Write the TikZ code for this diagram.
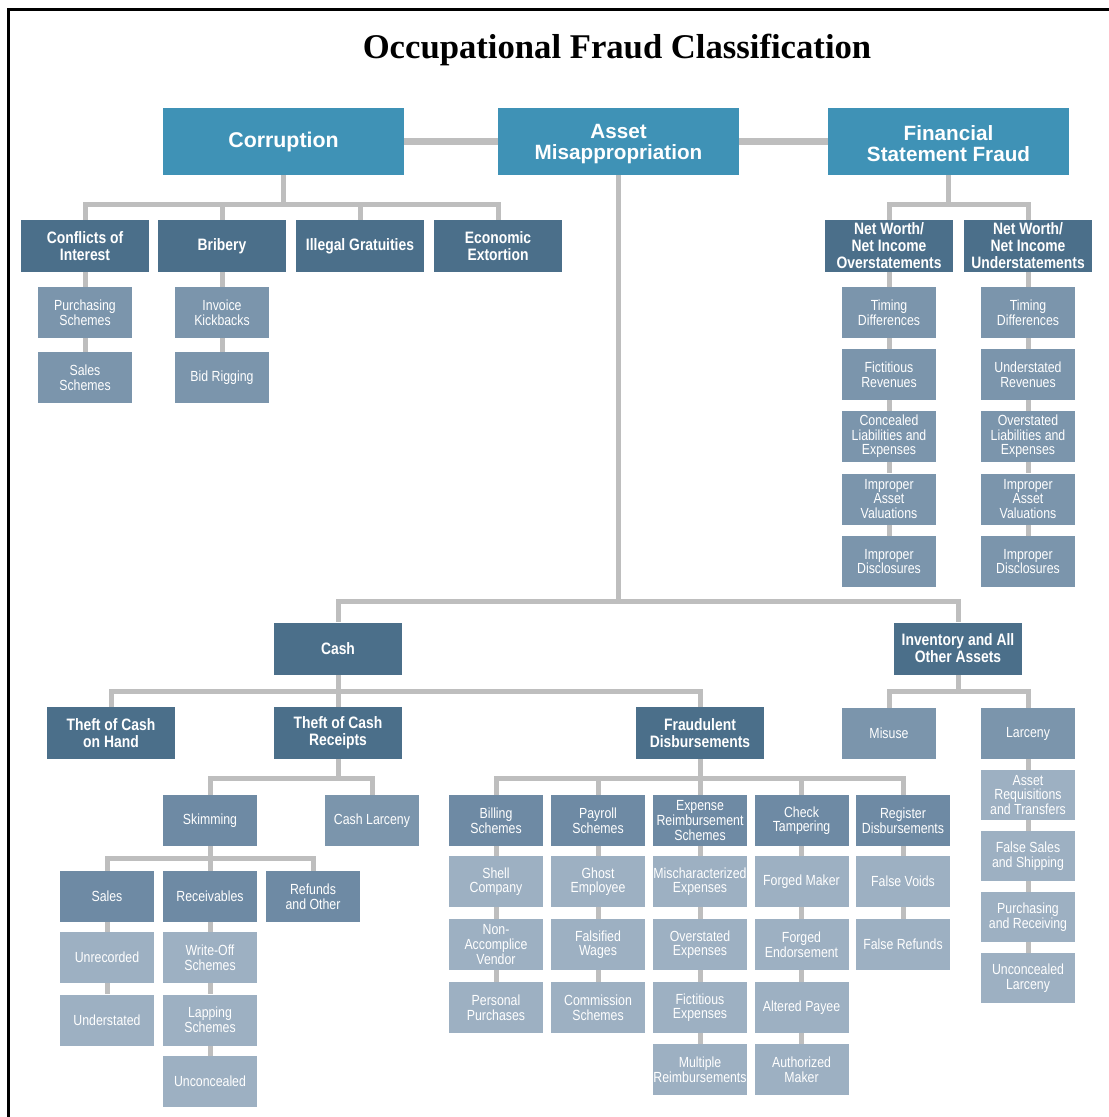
\documentclass[tikz,border=0pt]{standalone}
\usepackage{fontspec}
\setmainfont{Liberation Sans}
\newfontfamily\titlefont{Liberation Serif}
\newfontfamily\condfont[FakeStretch=0.84]{Liberation Sans}
\usetikzlibrary{backgrounds}
\definecolor{topc}{HTML}{3F92B6}
\definecolor{darkc}{HTML}{4B6F8A}
\definecolor{medc}{HTML}{6E8AA4}
\definecolor{midc}{HTML}{7B95AC}
\definecolor{lightc}{HTML}{9DB0C2}
\definecolor{linec}{HTML}{BEBEBE}
\begin{document}
\begin{tikzpicture}[x=0.75pt,y=-0.75pt,
  box/.style={fill=#1, text=white, align=center, inner sep=0pt},
  topbox/.style={box=topc, minimum width=180.75pt, minimum height=50.25pt, font=\bfseries\fontsize{15.5}{16}\selectfont},
  darkbox/.style={box=darkc, minimum width=96pt, minimum height=39pt, font=\condfont\bfseries\fontsize{12.4}{12.75}\selectfont},
  medbox/.style={box=medc, minimum width=70.5pt, minimum height=38.25pt, font=\condfont\fontsize{11}{10.9}\selectfont},
  midbox/.style={box=midc, minimum width=70.5pt, minimum height=38.25pt, font=\condfont\fontsize{11}{10.9}\selectfont},
  lightbox/.style={box=lightc, minimum width=70.5pt, minimum height=38.25pt, font=\condfont\fontsize{11}{10.9}\selectfont},
  conn/.style={draw=linec, line width=3.75pt},
  topconn/.style={draw=linec, line width=5.25pt}
]
\useasboundingbox (0,0) rectangle (1109,1117);
\draw[line width=2.25pt] (8,1117) -- (8,9) -- (1109,9);

\node[font=\titlefont\bfseries\fontsize{26}{28}\selectfont, anchor=base] (title) at (617,58) {Occupational Fraud Classification};

% top level
\node[topbox, font=\bfseries\fontsize{16}{17}\selectfont] (corr) at (283.5,141.5) {Corruption};
\node[topbox] (am) at (618.5,141.5) {\rule{0pt}{14pt}Asset\\Misappropriation};
\node[topbox] (fsf) at (948.5,141.5) {\rule{0pt}{14pt}Financial\\Statement Fraud};

% corruption
\node[darkbox] (coi) at (85,246) {Conflicts of\\Interest};
\node[darkbox] (bri) at (222,246) {Bribery};
\node[darkbox] (ill) at (360,246) {Illegal Gratuities};
\node[darkbox] (eco) at (498,246) {Economic\\Extortion};
\node[midbox] (ps) at (85,312.5) {Purchasing\\Schemes};
\node[midbox] (ss) at (85,377.5) {Sales\\Schemes};
\node[midbox] (ik) at (222,312.5) {Invoice\\Kickbacks};
\node[midbox] (br) at (222,377.5) {Bid Rigging};

% financial statement fraud
\node[darkbox] (nwo) at (889,246) {Net Worth/\\Net Income\\Overstatements};
\node[darkbox] (nwu) at (1028,246) {Net Worth/\\Net Income\\Understatements};
\node[midbox] (o1) at (889,312.5) {Timing\\Differences};
\node[midbox] (o2) at (889,374.5) {Fictitious\\Revenues};
\node[midbox] (o3) at (889,436.5) {Concealed\\Liabilities and\\Expenses};
\node[midbox] (o4) at (889,499) {Improper\\Asset\\Valuations};
\node[midbox] (o5) at (889,561.5) {Improper\\Disclosures};
\node[midbox] (u1) at (1028,312.5) {Timing\\Differences};
\node[midbox] (u2) at (1028,374.5) {Understated\\Revenues};
\node[midbox] (u3) at (1028,436.5) {Overstated\\Liabilities and\\Expenses};
\node[midbox] (u4) at (1028,499) {Improper\\Asset\\Valuations};
\node[midbox] (u5) at (1028,561.5) {Improper\\Disclosures};

% asset misappropriation
\node[darkbox] (cash) at (338,648.5) {Cash};
\node[darkbox] (inv) at (958,648.5) {Inventory and All\\Other Assets};
\node[darkbox] (tcoh) at (111,733) {Theft of Cash\\on Hand};
\node[darkbox] (tcr) at (338,733) {Theft of Cash\\Receipts};
\node[darkbox] (fd) at (700,733) {Fraudulent\\Disbursements};
\node[midbox] (mis) at (889,733.5) {Misuse};
\node[midbox] (lar) at (1028,733.5) {Larceny};
\node[lightbox, minimum height=37.5pt] (l1) at (1028,795) {Asset\\Requisitions\\and Transfers};
\node[lightbox, minimum height=37.5pt] (l2) at (1028,856) {False Sales\\and Shipping};
\node[lightbox, minimum height=37.5pt] (l3) at (1028,917) {Purchasing\\and Receiving};
\node[lightbox, minimum height=37.5pt] (l4) at (1028,978) {Unconcealed\\Larceny};

\node[medbox] (skim) at (210,820.5) {Skimming};
\node[midbox] (cl) at (372,820.5) {Cash Larceny};
\node[medbox] (sales) at (107,896.5) {Sales};
\node[medbox] (rec) at (210,896.5) {Receivables};
\node[medbox] (ref) at (313,896.5) {Refunds\\and Other};
\node[lightbox] (unr) at (107,957.5) {Unrecorded};
\node[lightbox] (und) at (107,1020) {Understated};
\node[lightbox] (wo) at (210,957.5) {Write-Off\\Schemes};
\node[lightbox] (lap) at (210,1020) {Lapping\\Schemes};
\node[lightbox] (unc) at (210,1081.5) {Unconcealed};

\node[medbox] (bill) at (496,820.5) {Billing\\Schemes};
\node[medbox] (pay) at (598,820.5) {Payroll\\Schemes};
\node[medbox] (exp) at (700,820.5) {Expense\\Reimbursement\\Schemes};
\node[medbox] (chk) at (801.5,820.5) {Check\\Tampering};
\node[medbox] (reg) at (903,820.5) {Register\\Disbursements};

\node[lightbox] (b1) at (496,881.5) {Shell\\Company};
\node[lightbox] (b2) at (496,944.5) {Non-\\Accomplice\\Vendor};
\node[lightbox] (b3) at (496,1007.5) {Personal\\Purchases};
\node[lightbox] (p1) at (598,881.5) {Ghost\\Employee};
\node[lightbox] (p2) at (598,944.5) {Falsified\\Wages};
\node[lightbox] (p3) at (598,1007.5) {Commission\\Schemes};
\node[lightbox] (e1) at (700,881.5) {Mischaracterized\\Expenses};
\node[lightbox] (e2) at (700,944.5) {Overstated\\Expenses};
\node[lightbox] (e3) at (700,1007.5) {Fictitious\\Expenses};
\node[lightbox] (e4) at (700,1069.5) {Multiple\\Reimbursements};
\node[lightbox] (c1) at (801.5,881.5) {Forged Maker};
\node[lightbox] (c2) at (801.5,944.5) {Forged\\Endorsement};
\node[lightbox] (c3) at (801.5,1007.5) {Altered Payee};
\node[lightbox] (c4) at (801.5,1069.5) {Authorized\\Maker};
\node[lightbox] (r1) at (903,881.5) {False Voids};
\node[lightbox] (r2) at (903,944.5) {False Refunds};

\begin{scope}[on background layer]
  \draw[topconn] (corr.east) -- (am.west);
  \draw[topconn] (am.east) -- (fsf.west);
  \foreach \p/\c/\yy in {corr/coi/204, corr/bri/204, corr/ill/204, corr/eco/204,
      fsf/nwo/204, fsf/nwu/204, am/cash/601, am/inv/601,
      cash/tcoh/691, cash/tcr/691, cash/fd/691, inv/mis/691, inv/lar/691,
      tcr/skim/778, tcr/cl/778, fd/bill/778, fd/pay/778, fd/exp/778, fd/chk/778, fd/reg/778,
      skim/sales/858, skim/rec/858, skim/ref/858}
    \draw[conn] (\p.south) |- (\c.north |- 0,\yy) -- (\c.north);
  \foreach \a/\b in {coi/ps, ps/ss, bri/ik, ik/br,
      nwo/o1, o1/o2, o2/o3, o3/o4, o4/o5, nwu/u1, u1/u2, u2/u3, u3/u4, u4/u5,
      lar/l1, l1/l2, l2/l3, l3/l4,
      sales/unr, unr/und, rec/wo, wo/lap, lap/unc,
      bill/b1, b1/b2, b2/b3, pay/p1, p1/p2, p2/p3,
      exp/e1, e1/e2, e2/e3, e3/e4, chk/c1, c1/c2, c2/c3, c3/c4, reg/r1, r1/r2}
    \draw[conn] (\a.south) -- (\b.north);
\end{scope}
\end{tikzpicture}
\end{document}
